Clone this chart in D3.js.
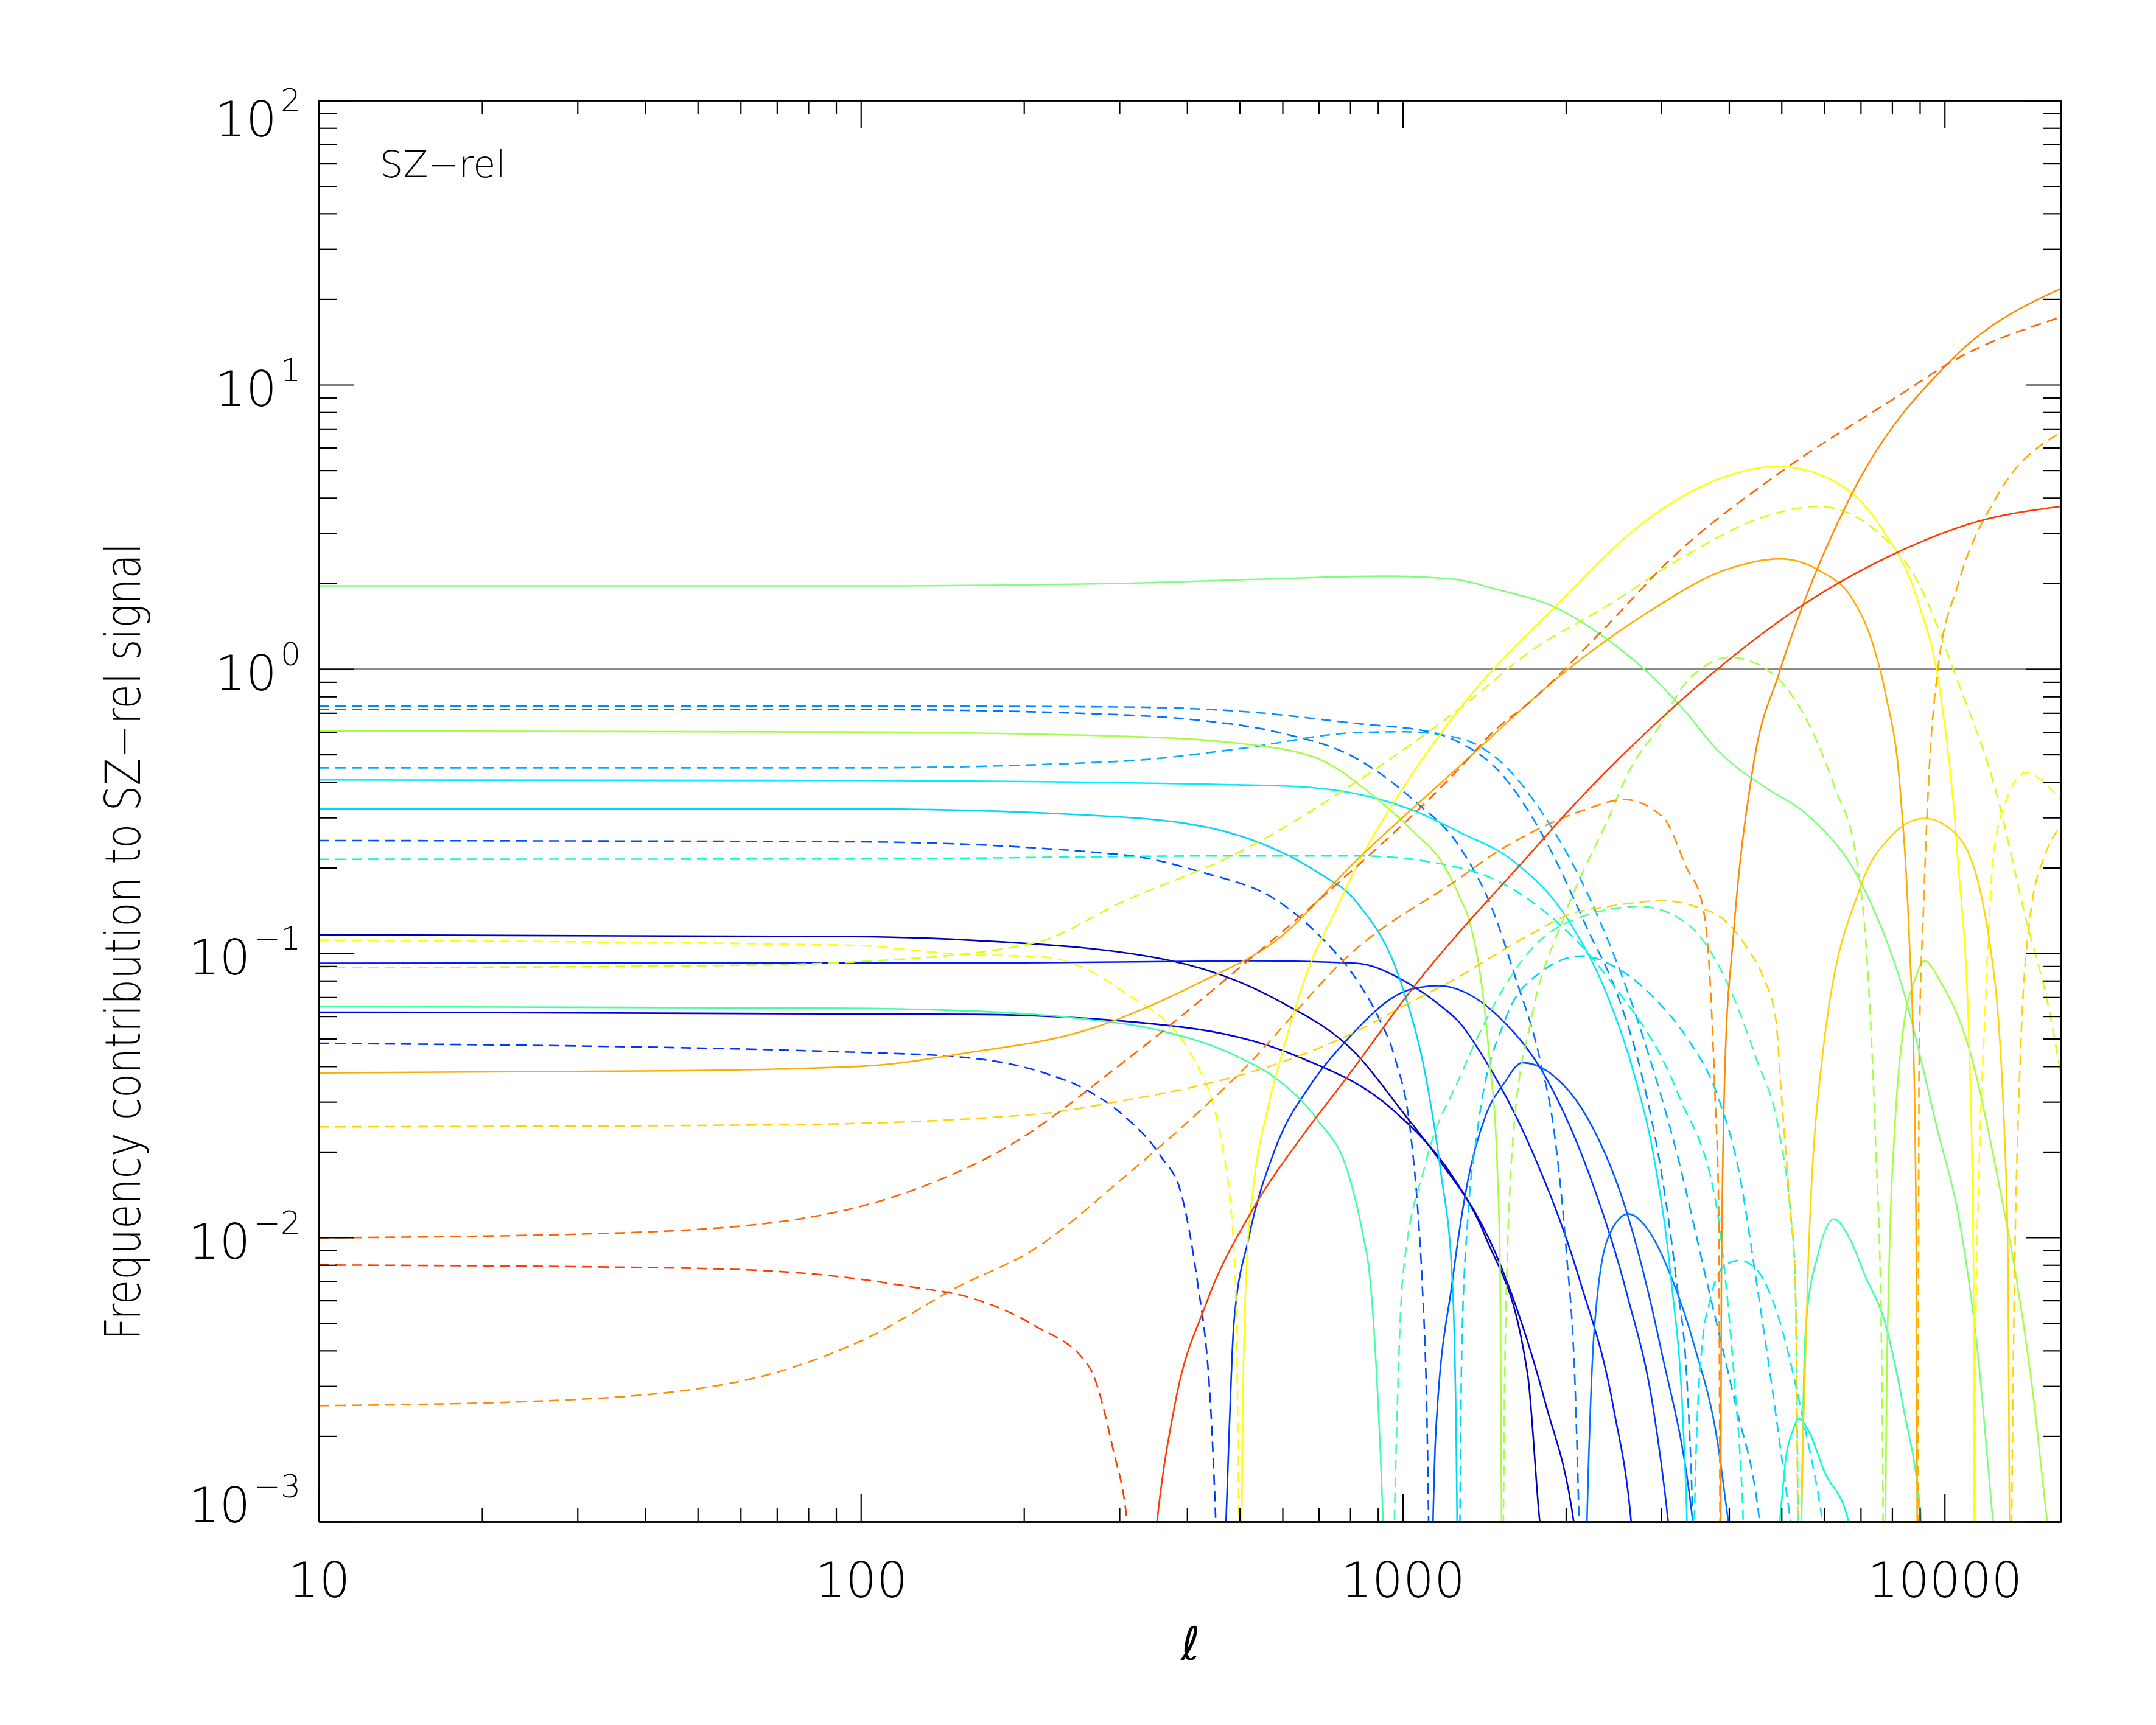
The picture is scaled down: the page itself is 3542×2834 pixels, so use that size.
<!DOCTYPE html>
<html>
<head>
<meta charset="utf-8">
<script src="https://cdn.jsdelivr.net/npm/d3@7"></script>
<style>
  body { margin: 0; background: #fff; }
  text { font-family: "DejaVu Sans", sans-serif; font-weight: 200; fill: #000; }
</style>
</head>
<body>
<svg id="chart" width="3542" height="2834"></svg>
<script>
// tick values
var xMajor = [10, 100, 1000, 10000];
var yMajor = [1e-3, 1e-2, 1e-1, 1, 10, 100];

// curves: [l, |contribution|], solid = positive, dashed = negative
var navySolid = [[10,0.116],[96,0.1144],[161,0.111],[366,0.0948],[590,0.068],[820,0.0443],[1000,0.0276],[1166,0.0188],[1420,0.0101],[1700,0.0033],[1790,0.001],[1830,0.0007]];
var dblueSolid = [[10,0.062],[161,0.0609],[393,0.0549],[644,0.0431],[957,0.0282],[1236,0.0164],[1507,0.0082],[1835,0.0026],[2068,0.001],[2120,0.0007]];
var blueSolid = [[10,0.0922],[200,0.0925],[525,0.094],[819,0.0922],[1030,0.0778],[1166,0.066],[1273,0.057],[1420,0.042],[1731,0.0202],[2120,0.0071],[2450,0.0025],[2640,0.001],[2700,0.0006]];
var blue2Neg = [[10,0.0482],[102,0.0447],[157,0.0429],[219,0.0378],[258,0.0334],[305,0.0269],[359,0.0191],[390,0.0143],[410,0.0089],[417,0.0072],[445,0.002],[458,0.0005]];
var blue2Pos = [[466,0.0005],[478,0.002],[488,0.005],[520,0.01],[580,0.0202],[680,0.035],[784,0.0489],[1036,0.0747],[1166,0.0768],[1300,0.073],[1500,0.06],[1845,0.036],[2200,0.017],[2600,0.0062],[2900,0.0025],[3090,0.001],[3150,0.0007]];
var blue3Neg = [[10,0.249],[96,0.2466],[305,0.2217],[424,0.1931],[590,0.152],[695,0.1174],[820,0.0812],[905,0.0587],[967,0.0429],[1035,0.0229],[1067,0.0122],[1085,0.0072],[1110,0.002],[1122,0.0005]];
var blue3Pos = [[1128,0.0005],[1150,0.002],[1236,0.0071],[1320,0.016],[1420,0.0266],[1540,0.035],[1663,0.0412],[1900,0.037],[2200,0.026],[2600,0.012],[3000,0.004],[3430,0.001],[3500,0.0007]];
var dodgerNeg = [[10,0.72],[100,0.72],[300,0.69],[424,0.659],[590,0.598],[820,0.485],[1050,0.344],[1275,0.236],[1465,0.142],[1618,0.081],[1788,0.043],[1906,0.023],[2004,0.0089],[2080,0.003],[2140,0.0004]];
var dodgerPos = [[2160,0.0004],[2200,0.0015],[2254,0.0046],[2399,0.0101],[2609,0.0121],[2830,0.0107],[3126,0.0073],[3460,0.0041],[3811,0.0019],[3990,0.001],[4100,0.0007]];
var azureNeg = [[10,0.74],[100,0.74],[300,0.735],[500,0.71],[820,0.643],[1140,0.597],[1275,0.55],[1500,0.44],[1833,0.25],[2200,0.12],[2500,0.07],[2783,0.035],[3000,0.017],[3200,0.007],[3350,0.003],[3430,0.001],[3470,0.0004]];
var skyNeg = [[10,0.449],[96,0.449],[305,0.474],[500,0.524],[820,0.597],[1000,0.601],[1275,0.57],[1500,0.48],[1833,0.3],[2200,0.16],[2783,0.05],[3200,0.02],[3640,0.007],[4130,0.0025],[4500,0.0012],[4700,0.0006]];
var cyanPos = [[10,0.322],[96,0.322],[305,0.301],[500,0.259],[695,0.193],[820,0.152],[1000,0.0754],[1103,0.0367],[1177,0.0167],[1234,0.0072],[1255,0.002],[1265,0.0005]];
var cyanNeg = [[1272,0.0005],[1285,0.004],[1320,0.012],[1370,0.0229],[1547,0.0587],[1790,0.0852],[2141,0.0977],[2479,0.0889],[2927,0.0688],[3340,0.0506],[3811,0.0315],[4182,0.0167],[4485,0.0072],[4800,0.003],[5200,0.001],[5350,0.0007]];
var cyan2Pos = [[10,0.407],[96,0.405],[590,0.388],[820,0.364],[1050,0.317],[1275,0.266],[1600,0.211],[2035,0.128],[2399,0.069],[2682,0.0367],[2927,0.0178],[3126,0.0072],[3300,0.002],[3346,0.001],[3380,0.0004]];
var cyan2Neg = [[3420,0.0004],[3470,0.0015],[3565,0.0041],[3690,0.006],[3938,0.008],[4175,0.0083],[4500,0.0077],[4880,0.0056],[5477,0.0023],[5950,0.001],[6100,0.0007]];
var turqNeg = [[10,0.214],[96,0.2146],[500,0.22],[820,0.22],[1275,0.2],[1728,0.152],[2399,0.0812],[3233,0.0315],[3811,0.0122],[3938,0.0072],[4100,0.003],[4250,0.001],[4300,0.0005]];
var turqPos = [[4850,0.0007],[4962,0.001],[5100,0.0017],[5250,0.0021],[5383,0.0023],[5600,0.0021],[6000,0.0015],[6650,0.001],[6800,0.0008]];
var aquaPos = [[10,0.065],[96,0.064],[209,0.0609],[258,0.0587],[359,0.0533],[500,0.0429],[590,0.0357],[695,0.026],[794,0.0167],[843,0.0104],[870,0.0072],[920,0.001],[935,0.0004]];
var aquaNeg = [[955,0.0004],[965,0.001],[1000,0.0072],[1100,0.018],[1275,0.0367],[1465,0.0644],[1728,0.1035],[2035,0.1295],[2740,0.146],[3340,0.1275],[3938,0.0812],[4485,0.0429],[4962,0.0229],[5195,0.0122],[5300,0.0072],[5380,0.0005]];
var aquaPos3 = [[5420,0.0005],[5470,0.002],[5550,0.005],[5848,0.0088],[6248,0.0116],[6700,0.0098],[7140,0.0073],[7740,0.0051],[8400,0.0025],[9060,0.001],[9200,0.0007]];
var greenPos = [[10,1.96],[100,1.96],[300,2.0],[600,2.08],[920,2.12],[1240,2.07],[1500,1.9],[1908,1.65],[2399,1.26],[2787,1.0],[3342,0.7],[3800,0.52],[4200,0.44],[4700,0.38],[5657,0.3],[6956,0.182],[8407,0.073],[9750,0.023],[10585,0.0122],[11500,0.004],[12283,0.001],[12500,0.0007]];
var ygPos = [[10,0.605],[96,0.6],[300,0.58],[500,0.547],[695,0.485],[890,0.353],[1050,0.266],[1177,0.211],[1275,0.157],[1327,0.13],[1394,0.081],[1445,0.043],[1496,0.0167],[1513,0.0072],[1525,0.0005]];
var ygNeg = [[1530,0.0005],[1545,0.004],[1600,0.023],[1728,0.059],[1972,0.13],[2399,0.3],[2638,0.45],[2927,0.6],[3340,0.9],[3600,1.02],[4003,1.1],[4645,1.01],[5477,0.7],[6248,0.39],[6887,0.211],[7230,0.081],[7450,0.023],[7650,0.004],[7720,0.0005]];
var ygPos3 = [[7760,0.0005],[7800,0.002],[7900,0.008],[8100,0.025],[8400,0.055],[8800,0.08],[9173,0.094],[9800,0.08],[11120,0.0455],[12490,0.0167],[13560,0.0072],[14500,0.003],[15470,0.001],[15700,0.0008]];
var chartNeg = [[10,0.0889],[57,0.0906],[102,0.0936],[209,0.1086],[305,0.152],[500,0.227],[820,0.4],[1275,0.727],[1728,1.16],[2399,1.68],[3340,2.52],[4645,3.43],[5848,3.73],[7612,2.97],[8974,1.98],[10585,0.9],[12490,0.36],[14015,0.14],[15700,0.059],[16400,0.037]];
var yellowNeg = [[10,0.111],[96,0.1066],[151,0.0992],[219,0.0968],[305,0.0732],[410,0.0429],[468,0.0194],[491,0.0072],[500,0.0005]];
var yellowPos = [[503,0.0005],[506,0.002],[515,0.008],[530,0.015],[560,0.027],[600,0.045],[673,0.09],[750,0.14],[820,0.2],[1000,0.38],[1275,0.727],[1908,1.65],[2830,3.36],[3938,4.75],[4926,5.16],[5943,4.79],[7612,3.17],[8974,1.68],[9750,0.895],[10585,0.211],[11120,0.0429],[11310,0.0072],[11350,0.0005]];
var yellowNeg3 = [[11360,0.0005],[11400,0.004],[11600,0.02],[11860,0.0587],[12280,0.211],[12890,0.33],[14125,0.432],[15000,0.41],[16400,0.343]];
var goldNeg = [[10,0.0245],[69.5,0.0249],[209,0.0271],[305,0.0303],[424,0.0343],[590,0.041],[820,0.053],[1000,0.065],[1275,0.083],[1465,0.0975],[1728,0.117],[2035,0.137],[2399,0.146],[3027,0.153],[3460,0.146],[3938,0.13],[4330,0.1035],[4645,0.081],[4880,0.0587],[5000,0.0315],[5195,0.0122],[5300,0.0072],[5370,0.0005]];
var goldPos = [[5400,0.0005],[5480,0.002],[5600,0.008],[5946,0.0429],[6993,0.171],[8000,0.26],[9173,0.298],[10585,0.258],[12100,0.11],[12900,0.0229],[13100,0.0072],[13200,0.0005]];
var goldNeg3 = [[13250,0.0005],[13400,0.004],[13750,0.0367],[14400,0.137],[15300,0.22],[16400,0.28]];
var orangePos = [[10,0.0379],[47,0.0386],[102,0.0401],[157,0.0446],[258,0.0533],[424,0.0792],[590,0.1126],[820,0.2114],[1275,0.456],[2035,1.01],[2830,1.58],[3938,2.23],[4962,2.44],[5946,2.19],[6787,1.74],[7365,1.23],[7800,0.8],[8265,0.39],[8610,0.11],[8800,0.0315],[8870,0.0072],[8910,0.0005]];
var orangeNeg = [[8925,0.0005],[8945,0.005],[8974,0.0429],[9152,0.152],[9335,0.39],[9720,1.0],[10585,1.98],[12490,4.05],[16400,6.8]];
var dorangeNeg = [[10,0.00256],[26,0.00266],[57,0.00306],[102,0.0044],[151,0.0067],[209,0.0091],[305,0.0162],[500,0.0378],[820,0.1035],[1275,0.184],[1465,0.222],[1728,0.266],[2141,0.317],[2565,0.347],[3027,0.3],[3340,0.2],[3565,0.151],[3690,0.081],[3770,0.0315],[3830,0.0122],[3845,0.002],[3855,0.0004]];
var dorangePos = [[3858,0.0004],[3865,0.002],[3873,0.0072],[3938,0.043],[4068,0.11],[4421,0.44],[4962,0.98],[5477,1.68],[6675,3.98],[10416,12.5],[16400,21.8]];
var rorangeNeg = [[10,0.00997],[32,0.0103],[69.5,0.0113],[124,0.0146],[186,0.0208],[305,0.0413],[500,0.0889],[695,0.152],[1275,0.449],[1465,0.598],[1728,0.773],[2323,1.35],[3126,2.44],[4962,4.9],[8265,9.2],[10416,12.2],[15800,16.9],[16400,17.3]];
var redNeg = [[10,0.008],[47,0.0078],[84,0.0074],[124,0.0067],[161,0.0061],[209,0.0049],[264,0.0035],[292,0.0018],[310,0.001],[320,0.0005]];
var redPos = [[340,0.0005],[352,0.001],[380,0.0026],[433,0.0058],[528,0.0125],[650,0.0225],[784,0.036],[1056,0.0776],[1730,0.227],[2004,0.311],[3126,0.72],[3811,1.0],[5477,1.68],[8003,2.52],[11500,3.3],[16400,3.73]];

// style of each curve: data, colour, dashed
var series = [
  [navySolid, "#0000b4", false],
  [dblueSolid, "#0000dc", false],
  [blueSolid, "#0018ff", false],
  [blue2Neg, "#0034ff", true], [blue2Pos, "#0034ff", false],
  [blue3Neg, "#0050ff", true], [blue3Pos, "#0050ff", false],
  [dodgerNeg, "#0074ff", true], [dodgerPos, "#0074ff", false],
  [azureNeg, "#008cff", true],
  [skyNeg, "#00aeff", true],
  [cyanPos, "#00d4ff", false], [cyanNeg, "#00d4ff", true],
  [cyan2Pos, "#00ecff", false], [cyan2Neg, "#00ecff", true],
  [turqNeg, "#00ffd4", true], [turqPos, "#00ffd4", false],
  [aquaPos, "#40ffa4", false], [aquaNeg, "#40ffa4", true], [aquaPos3, "#40ffa4", false],
  [greenPos, "#7cff7c", false],
  [ygPos, "#a4ff40", false], [ygNeg, "#a4ff40", true], [ygPos3, "#a4ff40", false],
  [chartNeg, "#d4ff10", true],
  [yellowNeg, "#ffff00", true], [yellowPos, "#ffff00", false], [yellowNeg3, "#ffff00", true],
  [goldNeg, "#ffd400", true], [goldPos, "#ffd400", false], [goldNeg3, "#ffd400", true],
  [orangePos, "#ffac00", false], [orangeNeg, "#ffac00", true],
  [dorangeNeg, "#ff8c00", true], [dorangePos, "#ff8c00", false],
  [rorangeNeg, "#ff6400", true],
  [redNeg, "#ff3c00", true], [redPos, "#ff3c00", false]
];

var svg = d3.select("#chart"),
    pLeft = 524, pRight = 3386, pTop = 165, pBottom = 2500;

svg.append("rect").attr("width", 3542).attr("height", 2834).attr("fill", "#fff");

var x = d3.scaleLog().domain([10, 16400]).range([pLeft, pRight]),
    y = d3.scaleLog().domain([1e-3, 1e2]).range([pBottom, pTop]);

var xMinor = [], yMinor = [];
[10, 100, 1000].forEach(function (p) { for (var k = 2; k <= 9; k++) xMinor.push(k * p); });
yMajor.slice(0, -1).forEach(function (p) { for (var k = 2; k <= 9; k++) yMinor.push(k * p); });

svg.append("clipPath").attr("id", "plot")
  .append("rect").attr("x", pLeft).attr("y", pTop)
  .attr("width", pRight - pLeft).attr("height", pBottom - pTop);

// reference line at 1
svg.append("line")
  .attr("x1", pLeft).attr("x2", pRight)
  .attr("y1", y(1)).attr("y2", y(1))
  .attr("stroke", "#8c8c8c").attr("stroke-width", 2);

var line = d3.line()
  .x(function (d) { return x(d[0]); })
  .y(function (d) { return y(d[1]); })
  .curve(d3.curveMonotoneX);

var curves = svg.append("g").attr("clip-path", "url(#plot)");
series.forEach(function (s) {
  curves.append("path")
    .datum(s[0])
    .attr("d", line)
    .attr("fill", "none")
    .attr("stroke", s[1])
    .attr("stroke-width", 2.6)
    .attr("stroke-dasharray", s[2] ? "17,10" : null);
});

// axes
function styleAxis(g) {
  g.select(".domain").attr("stroke", "#000").attr("stroke-width", 2.6);
  g.selectAll(".tick line").attr("stroke", "#000").attr("stroke-width", 2.2);
  g.attr("font-family", null).attr("font-size", null);
}

svg.append("g").attr("transform", "translate(0," + pBottom + ")")
  .call(d3.axisBottom(x).tickValues(xMajor).tickSizeInner(-46).tickSizeOuter(0)
    .tickPadding(67).tickFormat(d3.format("d")))
  .call(styleAxis)
  .selectAll("text").style("font-size", "80px").attr("fill", "#000");
svg.append("g").attr("transform", "translate(0," + pBottom + ")")
  .call(d3.axisBottom(x).tickValues(xMinor).tickSizeInner(-23).tickSizeOuter(0).tickFormat(""))
  .call(styleAxis);
svg.append("g").attr("transform", "translate(0," + pTop + ")")
  .call(d3.axisTop(x).tickValues(xMajor).tickSizeInner(-46).tickSizeOuter(0).tickFormat(""))
  .call(styleAxis);
svg.append("g").attr("transform", "translate(0," + pTop + ")")
  .call(d3.axisTop(x).tickValues(xMinor).tickSizeInner(-23).tickSizeOuter(0).tickFormat(""))
  .call(styleAxis);

var yLeft = svg.append("g").attr("transform", "translate(" + pLeft + ",0)")
  .call(d3.axisLeft(y).tickValues(yMajor).tickSizeInner(-58).tickSizeOuter(0).tickFormat(""))
  .call(styleAxis);
svg.append("g").attr("transform", "translate(" + pLeft + ",0)")
  .call(d3.axisLeft(y).tickValues(yMinor).tickSizeInner(-29).tickSizeOuter(0).tickFormat(""))
  .call(styleAxis);
svg.append("g").attr("transform", "translate(" + pRight + ",0)")
  .call(d3.axisRight(y).tickValues(yMajor).tickSizeInner(-58).tickSizeOuter(0).tickFormat(""))
  .call(styleAxis);
svg.append("g").attr("transform", "translate(" + pRight + ",0)")
  .call(d3.axisRight(y).tickValues(yMinor).tickSizeInner(-29).tickSizeOuter(0).tickFormat(""))
  .call(styleAxis);

// y labels as 10^n
yLeft.selectAll(".tick").each(function (d) {
  var e = Math.round(Math.log10(d));
  var base = e === 2 ? 58 : (e === -3 ? 0 : 34);
  var t = d3.select(this).select("text")
    .attr("x", -30).attr("y", base).attr("dy", null)
    .attr("text-anchor", "end").style("font-size", "80px").attr("fill", "#000")
    .text("10");
  t.append("tspan").attr("dx", 6).attr("dy", -41).style("font-size", "52px")
    .text(e < 0 ? "\u2212" + (-e) : String(e));
});

// titles
svg.append("text")
  .attr("transform", "translate(230,1547) rotate(-90)")
  .attr("text-anchor", "middle")
  .attr("textLength", 1310).attr("lengthAdjust", "spacingAndGlyphs")
  .style("font-size", "80px")
  .text("Frequency contribution to SZ\u2212rel signal");

svg.append("text")
  .attr("x", 1956).attr("y", 2727)
  .attr("text-anchor", "middle")
  .style("font-size", "76px").style("font-style", "italic")
  .text("\u2113");

svg.append("text")
  .attr("x", 624).attr("y", 291)
  .attr("textLength", 207).attr("lengthAdjust", "spacingAndGlyphs")
  .style("font-size", "60px")
  .text("SZ\u2212rel");
</script>
</body>
</html>
